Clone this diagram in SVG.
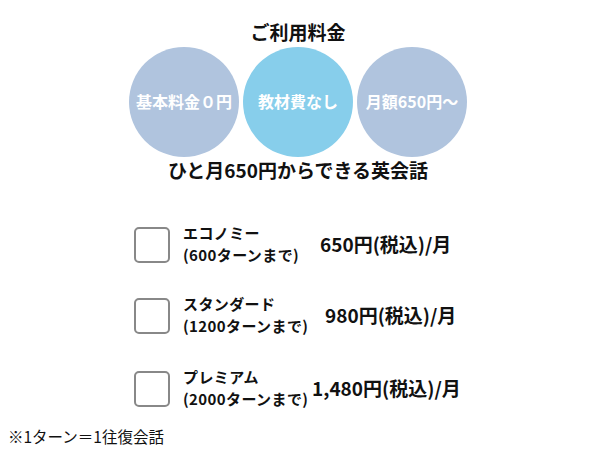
<svg xmlns="http://www.w3.org/2000/svg" width="595" height="456" viewBox="0 0 595 456">
<style>
text{font-family:"Noto Sans CJK JP","Noto Sans",sans-serif;fill:#111}
.h{font-size:19px;font-weight:bold;text-anchor:middle}
.c{font-size:16px;font-weight:bold;fill:#fff;text-anchor:middle}
.l{font-size:15px;font-weight:bold;letter-spacing:0.4px}
.p{font-size:19px;font-weight:bold}
.box{fill:#fff;stroke:#888;stroke-width:2}
</style>
<rect width="595" height="456" fill="#fff"/>
<g id="title"><text class="h" x="298" y="40">ご利用料金</text></g>
<g id="c1"><circle cx="184" cy="102" r="55" fill="#b0c4de"/><text class="c" x="184" y="108">基本料金０円</text></g>
<g id="c2"><circle cx="298" cy="102" r="55" fill="#87ceeb"/><text class="c" x="298" y="108">教材費なし</text></g>
<g id="c3"><circle cx="412" cy="102" r="55" fill="#b0c4de"/><text class="c" x="412" y="108">月額650円〜</text></g>
<g id="subtitle"><text class="h" x="298" y="178">ひと月650円からできる英会話</text></g>
<g id="plan1">
<rect class="box" x="135" y="228" width="34" height="34" rx="4"/>
<text class="l" x="183" y="239">エコノミー</text>
<text class="l" x="183" y="261">(600ターンまで)</text>
<text class="p" x="320" y="252">650円(税込)/月</text>
</g>
<g id="plan2">
<rect class="box" x="135" y="299" width="34" height="34" rx="4"/>
<text class="l" x="183" y="310">スタンダード</text>
<text class="l" x="183" y="332">(1200ターンまで)</text>
<text class="p" x="325" y="323">980円(税込)/月</text>
</g>
<g id="plan3">
<rect class="box" x="135" y="372" width="34" height="34" rx="4"/>
<text class="l" x="183" y="383">プレミアム</text>
<text class="l" x="183" y="405">(2000ターンまで)</text>
<text class="p" x="312" y="396">1,480円(税込)/月</text>
</g>
<g id="note"><text x="8" y="443" style="font-size:15.5px">※1ターン＝1往復会話</text></g>
<g id="connectors"></g>
</svg>
